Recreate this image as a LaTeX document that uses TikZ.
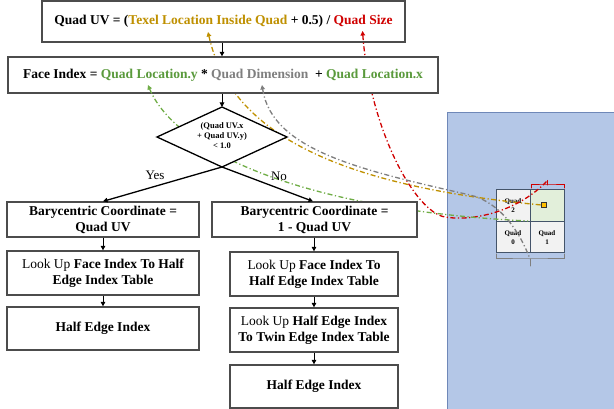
\documentclass[tikz,border=0pt]{standalone}
\usepackage{fontspec}
\setmainfont{Liberation Serif}
\usetikzlibrary{arrows.meta}
\definecolor{cgold}{HTML}{BF9000}
\definecolor{cred}{HTML}{D00000}
\definecolor{cgreen}{HTML}{5A9A3C}
\definecolor{cgreenl}{HTML}{70AD47}
\definecolor{cgray}{HTML}{7F7F7F}
\definecolor{cpanel}{HTML}{B4C7E7}
\definecolor{cpanelb}{HTML}{6F88B8}
\definecolor{cgrid}{HTML}{44546A}
\definecolor{ccell}{HTML}{F2F2F2}
\definecolor{ccellg}{HTML}{E2EFDA}
\definecolor{cyel}{HTML}{FFC000}
\begin{document}
\begin{tikzpicture}[x=1pt,y=-1pt,
  box/.style={draw=black!70, line width=1.3pt, fill=white, inner sep=0pt, align=center,
    font=\fontsize{13.5}{16}\selectfont\bfseries},
  flow/.style={black, line width=1pt, -{Triangle[length=4.5pt,width=4.5pt]}},
  link/.style={line width=1.3pt, dash pattern=on 5pt off 2.5pt on 1.2pt off 2.5pt},
  tipped/.style={{Triangle[length=4.5pt,width=4.5pt]}-},
  cell/.style={draw=cgrid, line width=1pt, minimum width=34pt, minimum height=31.5pt, inner sep=0pt,
    align=center, font=\fontsize{7}{9}\selectfont\bfseries},
  brace/.style={line width=1pt, line cap=round}
]
\useasboundingbox (0,0) rectangle (614,409);

% right-hand panel
\fill[cpanel] (447,113) rectangle (620,415);
\draw[cpanelb, line width=1pt] (447,415) -- (447,113) -- (620,113);
\node[cell, fill=ccell]  (q2) at (513,205.75) {Quad\\2};
\node[cell, fill=ccellg] (q3) at (547,205.75) {};
\node[cell, fill=ccell]  (q0) at (513,237.25) {Quad\\0};
\node[cell, fill=ccell]  (q1) at (547,237.25) {Quad\\1};
\node[draw=black!80, fill=cyel, line width=0.6pt, minimum size=4.5pt, inner sep=0pt] (ysq) at (544,205) {};
% braces
\coordinate (rbL) at (531,188); \coordinate (rbR) at (564,188);
\coordinate (rbM) at (547.5,185); \coordinate (rbT) at (547.5,180.5);
\draw[brace, cred] (rbL) |- (rbM) -| (rbR);
\draw[brace, cred] (rbM) -- (rbT);
\coordinate (gbL) at (496,254); \coordinate (gbR) at (564,254);
\coordinate (gbM) at (530,259); \coordinate (gbB) at (530,266);
\draw[brace, cgray] (gbL) |- (gbM) -| (gbR);
\draw[brace, cgray] (gbM) -- (gbB);

% box 1
\node[box, minimum width=363pt, minimum height=41pt] (uv) at (223.5,21.5)
  {Quad UV = (\textcolor{cgold}{Texel Location Inside Quad} + 0.5) / \textcolor{cred}{Quad Size}};

% tips of the links
\coordinate (tTexel) at (208,32);
\coordinate (tSize) at (362.5,31);
\coordinate (tLocY) at (148,85);
\coordinate (tDim) at (262,85);
\coordinate (gmid) at (470,195);
\coordinate (rmid) at (445,217);
\coordinate (gEnd) at (528,221);

% links behind box 2
\draw[link, cgold, tipped] (tTexel) .. controls (230,130) and (330,185) .. (ysq.west);
\draw[link, cred, tipped] (tSize) .. controls (370,130) and (415,212) .. (rmid)
   .. controls (475,222) and (520,210) .. (rbT);

% box 2
\node[box, minimum width=430pt, minimum height=36pt] (face) at (223,75)
  {Face Index = \textcolor{cgreen}{Quad Location.y} * \textcolor{cgray}{Quad Dimension}\ \ + \textcolor{cgreen}{Quad Location.x}};

% links over box 2
\draw[link, cgreenl, tipped] (tLocY) .. controls (175,150) and (300,210) .. (gEnd);
\draw[link, cgray, tipped] (tDim) .. controls (272,150) and (360,170) .. (gmid)
   .. controls (500,202) and (520,232) .. (gbM);

% diamond
\coordinate (dT) at (222,107);
\coordinate (dR) at (287,137);
\coordinate (dB) at (222,167);
\coordinate (dL) at (157,137);
\filldraw[fill=white, draw=black, line width=1.3pt, line join=miter] (dT) -- (dR) -- (dB) -- (dL) -- cycle;
\node[align=center, font=\fontsize{8.5}{10}\selectfont\bfseries, inner sep=0pt] (cond) at (222,136)
  {(Quad UV.x\\+ Quad UV.y)\\< 1.0};

% lower boxes
\node[box, minimum width=192pt, minimum height=35pt] (baryL) at (103,219.5) {Barycentric Coordinate =\\Quad UV};
\node[box, minimum width=192pt, minimum height=44pt] (lookL) at (103,273) {\mdseries Look Up \bfseries Face Index To Half\\Edge Index Table};
\node[box, minimum width=192pt, minimum height=43pt] (halfL) at (103,328.5) {Half Edge Index};
\node[box, minimum width=205pt, minimum height=35pt] (baryR) at (314.5,219.5) {Barycentric Coordinate =\\1 - Quad UV};
\node[box, minimum width=168pt, minimum height=44pt] (lookR1) at (314,274) {\mdseries Look Up \bfseries Face Index To\\Half Edge Index Table};
\node[box, minimum width=168pt, minimum height=44pt] (lookR2) at (314,330) {\mdseries Look Up \bfseries Half Edge Index\\To Twin Edge Index Table};
\node[box, minimum width=168pt, minimum height=43pt] (halfR) at (314,386.5) {Half Edge Index};

% flow arrows
\draw[flow] (uv.south -| 222,0) -- (face.north -| 222,0);
\draw[flow] (face.south -| dT) -- (dT);
\draw[flow, line width=1.3pt] (dB) -- (baryL.north);
\draw[flow, line width=1.3pt] (dB) -- (baryR.north -| 313,0);
\node[font=\fontsize{13}{15}\selectfont, inner sep=0pt] (yes) at (155,175) {Yes};
\node[font=\fontsize{13}{15}\selectfont, inner sep=0pt] (no) at (279,176) {No};
\draw[flow] (baryL) -- (lookL);
\draw[flow] (lookL) -- (halfL);
\draw[flow] (baryR.south -| lookR1) -- (lookR1);
\draw[flow] (lookR1) -- (lookR2);
\draw[flow] (lookR2) -- (halfR);
\end{tikzpicture}
\end{document}
